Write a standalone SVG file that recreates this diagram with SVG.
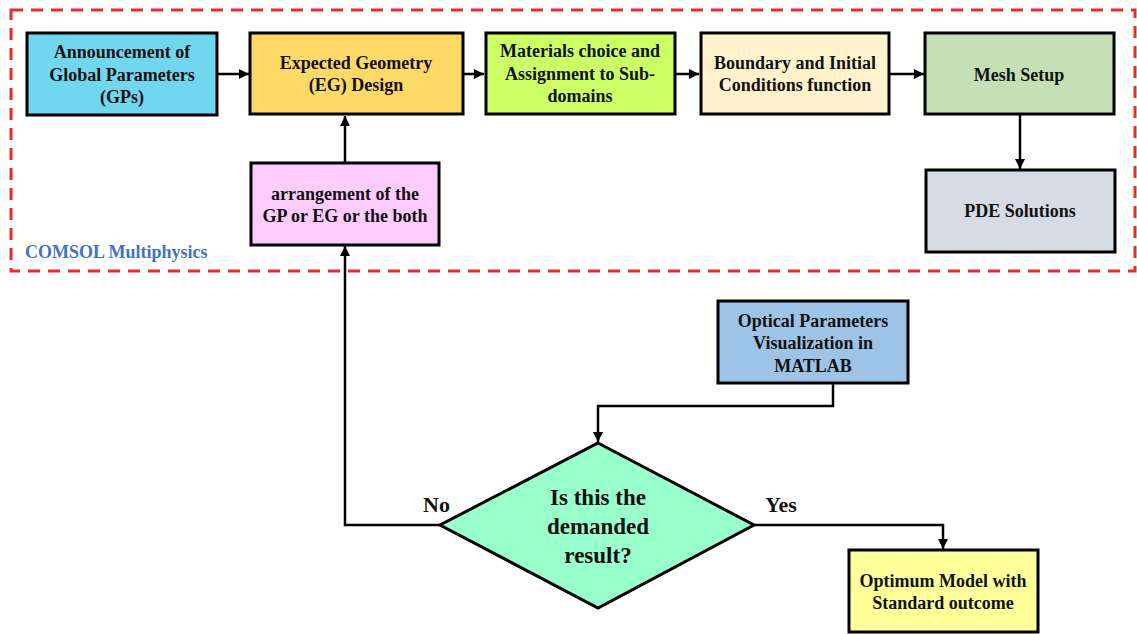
<svg xmlns="http://www.w3.org/2000/svg" width="1137" height="634" viewBox="0 0 1137 634">
<defs>
<marker id="ah" viewBox="0 0 10 10" refX="10" refY="5" markerWidth="4" markerHeight="4" markerUnits="strokeWidth" orient="auto">
<path d="M0,0 L10,5 L0,10 z" fill="#000"/>
</marker>
<style>
.box{stroke:#000;stroke-width:3}
.t{font-family:"Liberation Serif","Times New Roman",serif;font-weight:bold;font-size:18px;fill:#111;text-anchor:middle}
.big{font-size:23px}
.lbl{font-family:"Liberation Serif","Times New Roman",serif;font-weight:bold;font-size:22px;fill:#111}
.c{fill:none;stroke:#000;stroke-width:2.5;marker-end:url(#ah)}
</style>
</defs>
<rect width="1137" height="634" fill="#fff"/>
<g id="comsol-region">
<rect x="11" y="10" width="1124" height="261" fill="none" stroke="#EE2A2A" stroke-width="3" stroke-dasharray="12 8"/>
<text x="25" y="258" style="font-family:'Liberation Serif','Times New Roman',serif;font-weight:bold;font-size:18px;fill:#4472C4">COMSOL Multiphysics</text>
</g>
<g id="connectors">
<path class="c" d="M217,74 H249"/>
<path class="c" d="M463,74 H484"/>
<path class="c" d="M675,74 H699"/>
<path class="c" d="M889,74 H924"/>
<path class="c" d="M1020,115 V169"/>
<path class="c" d="M345,163 V116"/>
<path class="c" d="M440,525 H345 V246"/>
<path class="c" d="M833,384 V406 H598 V442"/>
<path class="c" d="M754,525 H943 V549"/>
</g>
<g id="n-announcement">
<rect class="box" x="27" y="33" width="190" height="82" fill="#71D7EF"/>
<text class="t" x="122" y="58">Announcement of</text>
<text class="t" x="122" y="81">Global Parameters</text>
<text class="t" x="122" y="103">(GPs)</text>
</g>
<g id="n-geometry">
<rect class="box" x="250" y="33" width="213" height="81" fill="#FFD966"/>
<text class="t" x="356" y="69">Expected Geometry</text>
<text class="t" x="356" y="91">(EG) Design</text>
</g>
<g id="n-materials">
<rect class="box" x="486" y="33" width="189" height="81" fill="#CCFF66"/>
<text class="t" x="580" y="57">Materials choice and</text>
<text class="t" x="580" y="80">Assignment to Sub-</text>
<text class="t" x="580" y="102">domains</text>
</g>
<g id="n-boundary">
<rect class="box" x="701" y="33" width="188" height="81" fill="#FFF2CC"/>
<text class="t" x="795" y="69">Boundary and Initial</text>
<text class="t" x="795" y="91">Conditions function</text>
</g>
<g id="n-mesh">
<rect class="box" x="925" y="33" width="189" height="81" fill="#C5E0B4"/>
<text class="t" x="1019" y="81">Mesh Setup</text>
</g>
<g id="n-pde">
<rect class="box" x="926" y="170" width="189" height="82" fill="#D6DCE5"/>
<text class="t" x="1020" y="217">PDE Solutions</text>
</g>
<g id="n-arrangement">
<rect class="box" x="251" y="163" width="188" height="82" fill="#FFCCFF"/>
<text class="t" x="345" y="200">arrangement of the</text>
<text class="t" x="345" y="222">GP or EG or the both</text>
</g>
<g id="n-optical">
<rect class="box" x="718" y="301" width="190" height="82" fill="#9DC3E6"/>
<text class="t" x="813" y="327">Optical Parameters</text>
<text class="t" x="813" y="349">Visualization in</text>
<text class="t" x="813" y="372">MATLAB</text>
</g>
<g id="n-decision">
<polygon points="598,443 754,525 598,608 440,525" fill="#99FFCC" stroke="#000" stroke-width="3"/>
<text class="t big" x="598" y="505">Is this the</text>
<text class="t big" x="598" y="534">demanded</text>
<text class="t big" x="598" y="563">result?</text>
</g>
<g id="n-optimum">
<rect class="box" x="849" y="550" width="189" height="82" fill="#FFFF99"/>
<text class="t" x="943" y="587">Optimum Model with</text>
<text class="t" x="943" y="609">Standard outcome</text>
</g>
<g id="labels">
<text class="lbl" x="423" y="512">No</text>
<text class="lbl" x="765" y="512">Yes</text>
</g>
</svg>
